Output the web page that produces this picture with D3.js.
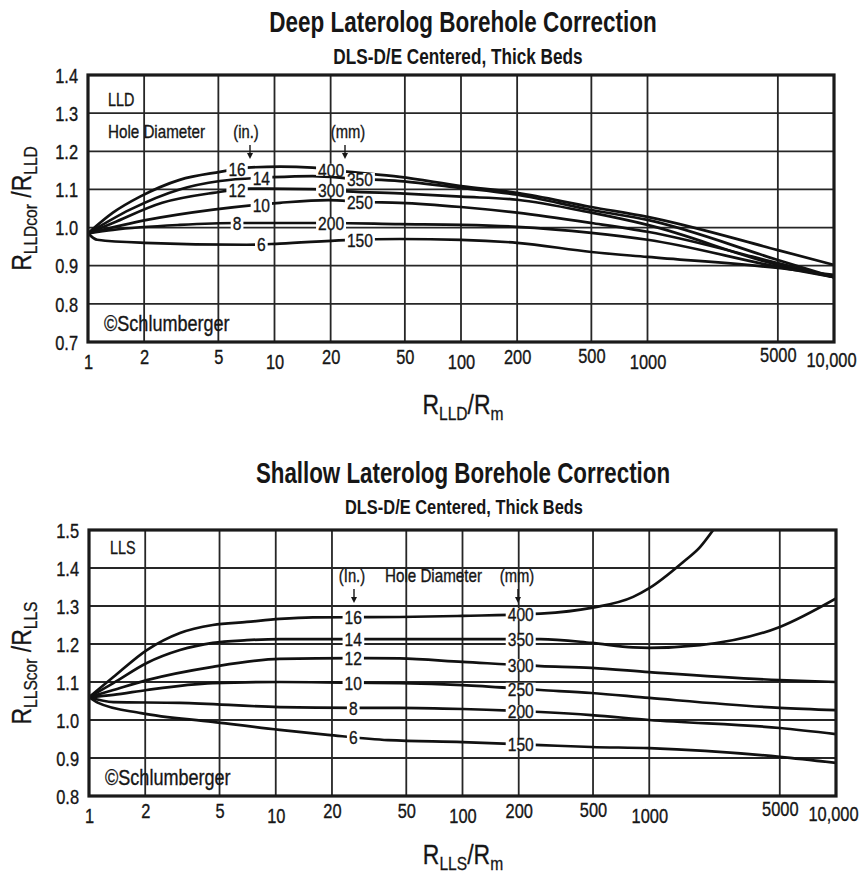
<!DOCTYPE html>
<html><head><meta charset="utf-8">
<script src="https://cdn.jsdelivr.net/npm/d3@7"></script>
<style>
body{margin:0;background:#fff}
svg{display:block}
</style>
</head><body>
<svg id="c" width="867" height="876"></svg>
<script>
// ---------------- DATA ----------------
const xTicks = [1, 2, 5, 10, 20, 50, 100, 200, 500, 1000, 5000, 10000];
const xTickLabels = ["1", "2", "5", "10", "20", "50", "100", "200", "500", "1000", "5000", "10,000"];
const lldYTicks = [0.7, 0.8, 0.9, 1.0, 1.1, 1.2, 1.3, 1.4];
const llsYTicks = [0.8, 0.9, 1.0, 1.1, 1.2, 1.3, 1.4, 1.5];
const holeInches = ["16", "14", "12", "10", "8", "6"];
const holeMm = ["400", "350", "300", "250", "200", "150"];

// Deep laterolog (LLD) curves: [Rlld/Rm, Rlldcor/Rlld]
const lld16 = [[1,0.985],[1.36,1.039],[1.9,1.081],[3.1,1.125],[5.1,1.146],[7.1,1.157],[10.7,1.160],[16,1.157],[23,1.148],[47,1.133],[100,1.109],[200,1.091],[500,1.054],[1000,1.028],[5000,0.941],[10000,0.902]];
const lld14 = [[1,0.985],[1.68,1.047],[3.1,1.100],[5.1,1.122],[9.8,1.132],[16,1.135],[27,1.128],[47,1.122],[100,1.104],[200,1.086],[500,1.046],[1000,1.020],[5000,0.915],[10000,0.870]];
const lld12 = [[1,0.985],[1.36,1.012],[2.5,1.065],[4.7,1.091],[7.4,1.102],[16,1.101],[24.5,1.095],[50,1.089],[100,1.081],[200,1.073],[500,1.039],[1000,1.007],[5000,0.902],[10000,0.870]];
const lld10 = [[1,0.985],[2.07,1.020],[4.7,1.047],[10.7,1.065],[19.4,1.072],[30,1.067],[47,1.065],[100,1.054],[200,1.039],[500,1.012],[1000,0.989],[5000,0.907],[10000,0.870]];
const lld8  = [[1,0.985],[1.36,0.994],[3.1,1.007],[6.3,1.012],[20,1.012],[47,1.009],[100,1.007],[200,1.002],[500,0.986],[1000,0.968],[5000,0.897],[10000,0.870]];
const lld6  = [[1,0.985],[1.12,0.968],[2,0.960],[7.1,0.955],[10.7,0.958],[24,0.967],[47,0.970],[100,0.968],[200,0.960],[500,0.936],[1000,0.923],[5000,0.894],[10000,0.876]];

// Shallow laterolog (LLS) curves: [Rlls/Rm, Rllscor/Rlls]
const lls16 = [[1,1.060],[1.35,1.113],[2.04,1.184],[3.07,1.229],[4.6,1.250],[7,1.258],[10.5,1.266],[15.8,1.270],[46,1.271],[100,1.274],[262,1.280],[490,1.295],[820,1.324],[1000,1.347],[1520,1.416],[1870,1.455],[2200,1.500]];
const lls14 = [[1,1.060],[1.35,1.097],[2.04,1.150],[3.07,1.184],[4.6,1.203],[7,1.210],[10.5,1.213],[46,1.213],[100,1.213],[262,1.213],[490,1.203],[820,1.191],[1000,1.190],[1870,1.197],[5000,1.245],[10000,1.320]];
const lls12 = [[1,1.060],[1.35,1.079],[2.04,1.105],[4.6,1.140],[10.5,1.161],[26,1.163],[46,1.162],[100,1.153],[262,1.142],[490,1.137],[1000,1.126],[5000,1.105],[10000,1.100]];
const lls10 = [[1,1.060],[1.35,1.066],[2.04,1.079],[4.6,1.097],[10.5,1.100],[26,1.098],[46,1.097],[100,1.092],[262,1.079],[490,1.071],[1000,1.058],[5000,1.032],[10000,1.026]];
const lls8  = [[1,1.060],[1.35,1.047],[3.07,1.045],[10.5,1.034],[26,1.032],[46,1.032],[100,1.029],[262,1.021],[490,1.013],[1000,1.000],[5000,0.979],[10000,0.963]];
const lls6  = [[1,1.060],[1.12,1.045],[1.9,1.018],[4.6,0.995],[10.5,0.974],[19,0.961],[40,0.947],[100,0.942],[262,0.934],[490,0.929],[1000,0.926],[5000,0.903],[10000,0.887]];

// where the diameter labels sit along the x axis
const lldInchLabelX = [6.3, 8.5, 6.3, 8.5, 6.3, 8.5];
const lldMmLabelX   = [20.1, 28.7, 20.1, 28.7, 20.1, 28.7];
const llsInchLabelX = [26, 26, 26, 26, 26, 26];
const llsMmLabelX   = [205, 205, 205, 205, 205, 205];

// ---------------- FONT HANDLING ----------------
function hasFont(name){
  const c = document.createElement('canvas').getContext('2d');
  const s = "abcdefghijWMl1234567890";
  c.font = "40px monospace"; const a = c.measureText(s).width;
  c.font = "40px " + name + ", monospace"; const b = c.measureText(s).width;
  return Math.abs(a - b) > 1;
}
const narrowOK = hasFont("'Liberation Sans Narrow'");
const FAMILY = narrowOK ? "'Liberation Sans Narrow', 'Liberation Sans', sans-serif" : "'Liberation Sans', Arial, sans-serif";
const SQUEEZE = narrowOK ? 1 : 0.82;
function squeeze(sel){
  if (SQUEEZE === 1) return;
  sel.each(function(){
    const w = this.getComputedTextLength();
    this.setAttribute('textLength', w * SQUEEZE);
    this.setAttribute('lengthAdjust', 'spacingAndGlyphs');
  });
}

const INK = "#161616";
const svg = d3.select("#c").style("font-family", FAMILY);

function txt(parent, x, y, s, size, anchor){
  const t = parent.append("text").attr("x", x).attr("y", y)
    .attr("font-size", size).attr("fill", INK)
    .attr("stroke", INK).attr("stroke-width", 0.35)
    .attr("text-anchor", anchor || "start").text(s);
  squeeze(t);
  return t;
}

function interp(pts, x){
  const lx = Math.log10(x);
  for (let i = 0; i < pts.length - 1; i++){
    const a = Math.log10(pts[i][0]), b = Math.log10(pts[i+1][0]);
    if (lx >= a && lx <= b){
      const f = (lx - a) / (b - a);
      return pts[i][1] + f * (pts[i+1][1] - pts[i][1]);
    }
  }
  return pts[pts.length-1][1];
}

function arrow(g, x, y1, y2){
  g.append("line").attr("x1", x).attr("x2", x).attr("y1", y1).attr("y2", y2 - 4)
    .attr("stroke", INK).attr("stroke-width", 1.4);
  g.append("path").attr("d", `M${x-3},${y2-6}L${x+3},${y2-6}L${x},${y2}Z`).attr("fill", INK);
}

// staggered x tick label offsets (layout only)
const xLabelDy = [5, 0, 0, 5, 0, 0, 5, 0, -1, 5, -2, 3];
const xLabelDx = [0, 0, 0, 0, 0, 0, 0, 0, 0, 0, 0, -3];

function drawChart(cfg){
  const g = svg.append("g");
  const x = d3.scaleLog().domain([1, 10000]).range([cfg.left, cfg.right]);
  const y = d3.scaleLinear().domain([cfg.yTicks[0], cfg.yTicks[cfg.yTicks.length-1]]).range([cfg.bottom, cfg.top]);

  // titles
  txt(g, cfg.cx, cfg.titleY, cfg.title, 29.5, "middle").attr("font-weight", "bold").attr("stroke-width", 0);
  txt(g, cfg.subX, cfg.subY, cfg.subtitle, cfg.subSize, "middle").attr("font-weight", "bold").attr("stroke-width", 0);

  // grid
  g.append("g").selectAll("line").data(xTicks.slice(1, -1)).join("line")
    .attr("x1", d => x(d)).attr("x2", d => x(d)).attr("y1", cfg.top).attr("y2", cfg.bottom)
    .attr("stroke", "#262626").attr("stroke-width", 1.8);
  g.append("g").selectAll("line").data(cfg.yTicks.slice(1, -1)).join("line")
    .attr("x1", cfg.left).attr("x2", cfg.right).attr("y1", d => y(d)).attr("y2", d => y(d))
    .attr("stroke", "#262626").attr("stroke-width", 1.8);

  // clip
  const cid = "clip" + cfg.id;
  g.append("clipPath").attr("id", cid).append("rect")
    .attr("x", cfg.left).attr("y", cfg.top).attr("width", cfg.right - cfg.left).attr("height", cfg.bottom - cfg.top);

  const line = d3.line().x(d => x(d[0])).y(d => y(d[1])).curve(d3.curveMonotoneX);
  g.append("g").attr("clip-path", `url(#${cid})`).selectAll("path").data(cfg.curves).join("path")
    .attr("d", d => line(d)).attr("fill", "none").attr("stroke", "#111").attr("stroke-width", 2.7)
    .attr("stroke-linejoin", "round");

  // curve labels with knockout
  const lab = g.append("g");
  cfg.curves.forEach((pts, i) => {
    [[cfg.inchX[i], holeInches[i]], [cfg.mmX[i], holeMm[i]]].forEach(([lxv, s]) => {
      const px = x(lxv), py = y(interp(pts, lxv));
      const bg = lab.append("rect").attr("fill", "#fff");
      const t = txt(lab, px, py, s, 19, "middle").attr("dy", "0.36em");
      const bb = t.node().getBBox();
      bg.attr("x", bb.x - 2).attr("y", py - 6).attr("width", bb.width + 4).attr("height", 12);
    });
  });

  // annotations
  cfg.annot(g);

  // frame
  g.append("rect").attr("x", cfg.left).attr("y", cfg.top)
    .attr("width", cfg.right - cfg.left).attr("height", cfg.bottom - cfg.top)
    .attr("fill", "none").attr("stroke", "#1a1a1a").attr("stroke-width", 3.2);

  // y axis
  const ya = g.append("g").attr("transform", `translate(${cfg.left - 10},0)`)
    .call(d3.axisLeft(y).tickValues(cfg.yTicks).tickFormat(d3.format(".1f")).tickSize(0).tickPadding(0));
  ya.select(".domain").remove();
  ya.selectAll("text").attr("font-size", 20).attr("fill", INK).attr("font-family", FAMILY).attr("dy", "0.36em")
    .attr("stroke", INK).attr("stroke-width", 0.35);
  squeeze(ya.selectAll("text"));

  // x axis
  const xa = g.append("g").attr("transform", `translate(0,${cfg.bottom})`)
    .call(d3.axisBottom(x).tickValues(xTicks).tickFormat((d, i) => xTickLabels[i]).tickSize(0).tickPadding(0));
  xa.select(".domain").remove();
  xa.selectAll("text").attr("font-size", 20).attr("fill", INK).attr("font-family", FAMILY)
    .attr("stroke", INK).attr("stroke-width", 0.35)
    .attr("y", (d, i) => 22 + xLabelDy[i]).attr("dx", (d, i) => xLabelDx[i]).attr("dy", 0);
  squeeze(xa.selectAll("text"));

  // x title
  const xt = g.append("text").attr("x", cfg.cx).attr("y", cfg.bottom + cfg.xTitleOff)
    .attr("text-anchor", "middle").attr("fill", INK).attr("font-size", 28)
    .attr("stroke", INK).attr("stroke-width", 0.3);
  cfg.xTitle.forEach(([s, sub]) => {
    xt.append("tspan").text(s).attr("font-size", sub === 1 ? 19 : 28).attr("dy", sub === 1 ? 6 : (sub === -1 ? -6 : 0));
  });
  squeeze(xt);

  // y title
  const cy = (cfg.top + cfg.bottom) / 2;
  const yt = g.append("text").attr("transform", `translate(31,${cy}) rotate(-90)`)
    .attr("text-anchor", "middle").attr("fill", INK).attr("font-size", 28)
    .attr("stroke", INK).attr("stroke-width", 0.3);
  cfg.yTitle.forEach(([s, sub]) => {
    yt.append("tspan").text(s).attr("font-size", sub === 1 ? 19 : 28).attr("dy", sub === 1 ? 6 : (sub === -1 ? -6 : 0));
  });
  squeeze(yt);
}

drawChart({
  id: "lld", left: 88, right: 834, top: 75, bottom: 342, cx: 463,
  titleY: 32, subX: 458, subY: 64, subSize: 22, xTitleOff: 72,
  title: "Deep Laterolog Borehole Correction",
  subtitle: "DLS-D/E Centered, Thick Beds",
  yTicks: lldYTicks,
  curves: [lld16, lld14, lld12, lld10, lld8, lld6],
  inchX: lldInchLabelX, mmX: lldMmLabelX,
  xTitle: [["R",0],["LLD",1],["/R",-1],["m",1]],
  yTitle: [["R",0],["LLDcor",1],[" /R",-1],["LLD",1]],
  annot: g => {
    txt(g, 108, 106, "LLD", 17.5);
    txt(g, 108, 138, "Hole Diameter", 18.5);
    txt(g, 246, 138, "(in.)", 18, "middle");
    txt(g, 348, 138, "(mm)", 18, "middle");
    arrow(g, 250, 145, 159);
    arrow(g, 345, 145, 159);
    txt(g, 104, 331, "©Schlumberger", 22);
  }
});

drawChart({
  id: "lls", left: 89, right: 836, top: 530, bottom: 796, cx: 463,
  titleY: 483, subX: 464, subY: 514, subSize: 21, xTitleOff: 68,
  title: "Shallow Laterolog Borehole Correction",
  subtitle: "DLS-D/E Centered, Thick Beds",
  yTicks: llsYTicks,
  curves: [lls16, lls14, lls12, lls10, lls8, lls6],
  inchX: llsInchLabelX, mmX: llsMmLabelX,
  xTitle: [["R",0],["LLS",1],["/R",-1],["m",1]],
  yTitle: [["R",0],["LLScor",1],[" /R",-1],["LLS",1]],
  annot: g => {
    txt(g, 110, 554, "LLS", 17.5);
    txt(g, 352, 582, "(In.)", 18, "middle");
    txt(g, 385, 582, "Hole Diameter", 18.5);
    txt(g, 517, 582, "(mm)", 18, "middle");
    arrow(g, 354, 589, 603);
    arrow(g, 518, 589, 603);
    txt(g, 105, 785, "©Schlumberger", 22);
  }
});
</script>
</body></html>
